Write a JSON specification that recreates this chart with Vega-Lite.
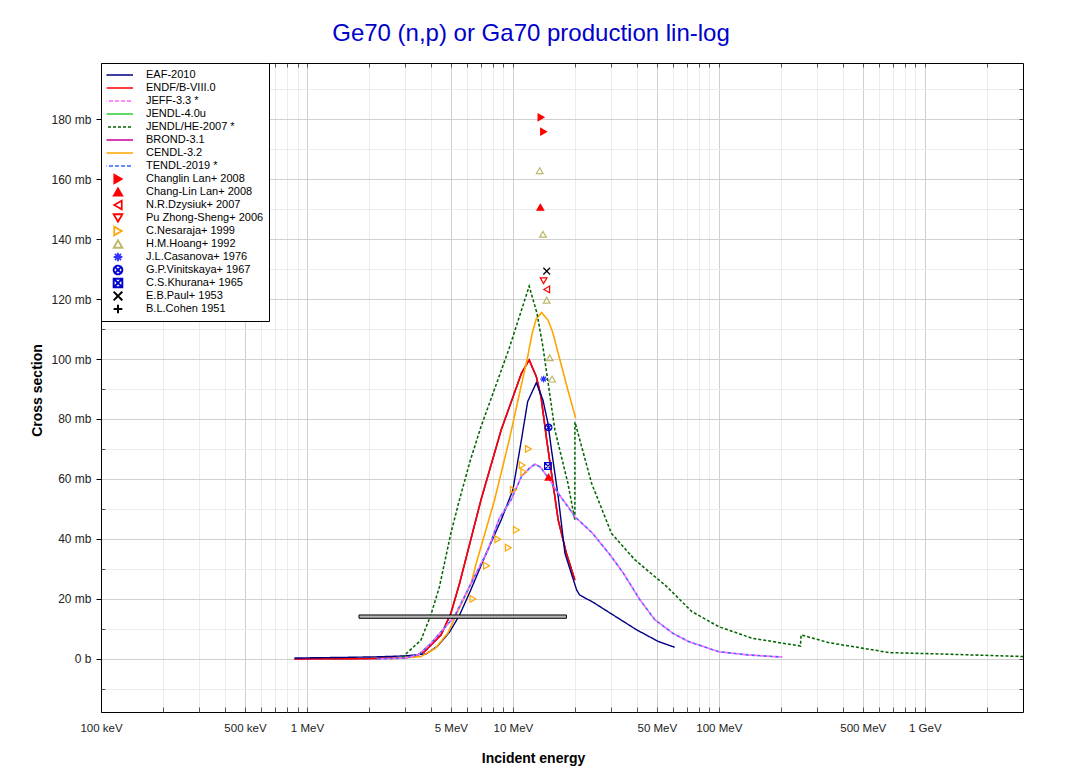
{
  "$schema": "https://vega.github.io/schema/vega-lite/v6.json",
  "autosize": {"type": "none"},
  "padding": {"left": 101, "top": 63, "right": 48, "bottom": 61},
  "width": 922,
  "height": 649,
  "background": "white",
  "config": {"view": {"stroke": null}, "font": "Liberation Sans"},
  "title": {"text": "Ge70 (n,p) or Ga70 production lin-log", "font": "Liberation Sans", "fontSize": 24, "fontWeight": "normal", "color": "#0000CC", "anchor": "middle", "dx": -31, "dy": 22, "offset": 20, "baseline": "alphabetic"},
  "datasets": {
    "curves": [
      {"s":"JENDL-4.0u","e":0.87,"v":0},{"s":"JENDL-4.0u","e":2.0,"v":0.1},{"s":"JENDL-4.0u","e":3.0,"v":0.4},{"s":"JENDL-4.0u","e":3.3,"v":0.8},{"s":"JENDL-4.0u","e":3.72,"v":2.4},{"s":"JENDL-4.0u","e":4.48,"v":8},{"s":"JENDL-4.0u","e":5.0,"v":15.2},{"s":"JENDL-4.0u","e":5.5,"v":25},{"s":"JENDL-4.0u","e":7.0,"v":53},{"s":"JENDL-4.0u","e":8.77,"v":76.3},{"s":"JENDL-4.0u","e":11.0,"v":95.2},{"s":"JENDL-4.0u","e":12.0,"v":99.7},{"s":"JENDL-4.0u","e":13.0,"v":94.1},{"s":"JENDL-4.0u","e":13.7,"v":87.4},{"s":"JENDL-4.0u","e":14.6,"v":73},{"s":"JENDL-4.0u","e":15.4,"v":61.9},{"s":"JENDL-4.0u","e":16.6,"v":46.3},{"s":"JENDL-4.0u","e":18.2,"v":35.2},{"s":"JENDL-4.0u","e":20.0,"v":26.3},
      {"s":"BROND-3.1","e":0.87,"v":0},{"s":"BROND-3.1","e":2.0,"v":0.1},{"s":"BROND-3.1","e":3.0,"v":0.4},{"s":"BROND-3.1","e":3.3,"v":0.8},{"s":"BROND-3.1","e":3.72,"v":2.4},{"s":"BROND-3.1","e":4.48,"v":8},{"s":"BROND-3.1","e":5.0,"v":15.2},{"s":"BROND-3.1","e":5.5,"v":25},{"s":"BROND-3.1","e":7.0,"v":53},{"s":"BROND-3.1","e":8.77,"v":76.3},{"s":"BROND-3.1","e":11.0,"v":95.2},{"s":"BROND-3.1","e":12.0,"v":99.7},{"s":"BROND-3.1","e":13.0,"v":94.1},{"s":"BROND-3.1","e":13.7,"v":87.4},{"s":"BROND-3.1","e":14.6,"v":73},{"s":"BROND-3.1","e":15.4,"v":61.9},{"s":"BROND-3.1","e":16.6,"v":46.3},{"s":"BROND-3.1","e":18.2,"v":35.2},{"s":"BROND-3.1","e":20.0,"v":26.3},
      {"s":"ENDF/B-VIII.0","e":0.87,"v":0},{"s":"ENDF/B-VIII.0","e":2.0,"v":0.1},{"s":"ENDF/B-VIII.0","e":3.0,"v":0.4},{"s":"ENDF/B-VIII.0","e":3.3,"v":0.8},{"s":"ENDF/B-VIII.0","e":3.72,"v":2.4},{"s":"ENDF/B-VIII.0","e":4.48,"v":8},{"s":"ENDF/B-VIII.0","e":5.0,"v":15.2},{"s":"ENDF/B-VIII.0","e":5.5,"v":25},{"s":"ENDF/B-VIII.0","e":7.0,"v":53},{"s":"ENDF/B-VIII.0","e":8.77,"v":76.3},{"s":"ENDF/B-VIII.0","e":11.0,"v":95.2},{"s":"ENDF/B-VIII.0","e":12.0,"v":99.7},{"s":"ENDF/B-VIII.0","e":13.0,"v":94.1},{"s":"ENDF/B-VIII.0","e":13.7,"v":87.4},{"s":"ENDF/B-VIII.0","e":14.6,"v":73},{"s":"ENDF/B-VIII.0","e":15.4,"v":61.9},{"s":"ENDF/B-VIII.0","e":16.6,"v":46.3},{"s":"ENDF/B-VIII.0","e":18.2,"v":35.2},{"s":"ENDF/B-VIII.0","e":20.0,"v":26.3},
      {"s":"EAF-2010","e":0.87,"v":0.3},{"s":"EAF-2010","e":1.5,"v":0.5},{"s":"EAF-2010","e":2.2,"v":0.7},{"s":"EAF-2010","e":3.0,"v":1.0},{"s":"EAF-2010","e":3.8,"v":1.7},{"s":"EAF-2010","e":4.3,"v":4.2},{"s":"EAF-2010","e":4.92,"v":8.9},{"s":"EAF-2010","e":5.5,"v":14.5},{"s":"EAF-2010","e":6.2,"v":22.5},{"s":"EAF-2010","e":7.4,"v":35},{"s":"EAF-2010","e":8.77,"v":46.3},{"s":"EAF-2010","e":10.0,"v":56.3},{"s":"EAF-2010","e":11.0,"v":73},{"s":"EAF-2010","e":11.8,"v":85.8},{"s":"EAF-2010","e":13.0,"v":92.1},{"s":"EAF-2010","e":14.0,"v":86.3},{"s":"EAF-2010","e":14.8,"v":78.6},{"s":"EAF-2010","e":15.4,"v":69.7},{"s":"EAF-2010","e":16.6,"v":54.1},{"s":"EAF-2010","e":17.9,"v":35.2},{"s":"EAF-2010","e":20.4,"v":23},{"s":"EAF-2010","e":21.1,"v":21.3},{"s":"EAF-2010","e":24.5,"v":18.9},{"s":"EAF-2010","e":39.9,"v":9.7},{"s":"EAF-2010","e":50.9,"v":5.8},{"s":"EAF-2010","e":61,"v":3.9},
      {"s":"CENDL-3.2","e":2.5,"v":0},{"s":"CENDL-3.2","e":3.58,"v":0.8},{"s":"CENDL-3.2","e":4.2,"v":3.5},{"s":"CENDL-3.2","e":4.83,"v":8.6},{"s":"CENDL-3.2","e":5.5,"v":17},{"s":"CENDL-3.2","e":6.27,"v":25.2},{"s":"CENDL-3.2","e":6.64,"v":31.9},{"s":"CENDL-3.2","e":8.15,"v":53},{"s":"CENDL-3.2","e":9.6,"v":73},{"s":"CENDL-3.2","e":11.8,"v":100.8},{"s":"CENDL-3.2","e":12.4,"v":108.5},{"s":"CENDL-3.2","e":13.0,"v":113.5},{"s":"CENDL-3.2","e":13.8,"v":115.5},{"s":"CENDL-3.2","e":14.8,"v":113},{"s":"CENDL-3.2","e":15.6,"v":109},{"s":"CENDL-3.2","e":16.6,"v":101.9},{"s":"CENDL-3.2","e":18.5,"v":89.6},{"s":"CENDL-3.2","e":20.2,"v":80.2},
      {"s":"JENDL/HE-2007 *","e":2.9,"v":0.5},{"s":"JENDL/HE-2007 *","e":3.58,"v":6.3},{"s":"JENDL/HE-2007 *","e":4.0,"v":14.7},{"s":"JENDL/HE-2007 *","e":4.4,"v":24.1},{"s":"JENDL/HE-2007 *","e":5.0,"v":41.9},{"s":"JENDL/HE-2007 *","e":5.5,"v":53},{"s":"JENDL/HE-2007 *","e":6.2,"v":66},{"s":"JENDL/HE-2007 *","e":7.0,"v":77.4},{"s":"JENDL/HE-2007 *","e":9.6,"v":103.6},{"s":"JENDL/HE-2007 *","e":12.0,"v":124.3},{"s":"JENDL/HE-2007 *","e":13.1,"v":115.2},{"s":"JENDL/HE-2007 *","e":14.0,"v":104},{"s":"JENDL/HE-2007 *","e":16.0,"v":76.3},{"s":"JENDL/HE-2007 *","e":18.5,"v":58.6},{"s":"JENDL/HE-2007 *","e":20.0,"v":46.3},{"s":"JENDL/HE-2007 *","e":20.02,"v":79},{"s":"JENDL/HE-2007 *","e":24.1,"v":58.6},{"s":"JENDL/HE-2007 *","e":30.1,"v":41.9},{"s":"JENDL/HE-2007 *","e":39.2,"v":33},{"s":"JENDL/HE-2007 *","e":55.9,"v":24.1},{"s":"JENDL/HE-2007 *","e":73.9,"v":15.8},{"s":"JENDL/HE-2007 *","e":99.7,"v":10.8},{"s":"JENDL/HE-2007 *","e":145,"v":6.9},{"s":"JENDL/HE-2007 *","e":249,"v":4.3},{"s":"JENDL/HE-2007 *","e":251,"v":8},{"s":"JENDL/HE-2007 *","e":343,"v":5.4},{"s":"JENDL/HE-2007 *","e":497,"v":3.6},{"s":"JENDL/HE-2007 *","e":672,"v":2.1},{"s":"JENDL/HE-2007 *","e":1130,"v":1.7},{"s":"JENDL/HE-2007 *","e":3000,"v":0.8},
      {"s":"TENDL-2019 *","e":2.2,"v":0},{"s":"TENDL-2019 *","e":3.0,"v":0.3},{"s":"TENDL-2019 *","e":3.5,"v":1.5},{"s":"TENDL-2019 *","e":4.0,"v":5.2},{"s":"TENDL-2019 *","e":5.2,"v":14.1},{"s":"TENDL-2019 *","e":6.27,"v":25.2},{"s":"TENDL-2019 *","e":7.57,"v":36.3},{"s":"TENDL-2019 *","e":8.6,"v":46.9},{"s":"TENDL-2019 *","e":9.8,"v":53},{"s":"TENDL-2019 *","e":11.0,"v":60.8},{"s":"TENDL-2019 *","e":12.0,"v":63.5},{"s":"TENDL-2019 *","e":12.8,"v":64.9},{"s":"TENDL-2019 *","e":13.6,"v":64},{"s":"TENDL-2019 *","e":14.3,"v":61.9},{"s":"TENDL-2019 *","e":15.1,"v":59.7},{"s":"TENDL-2019 *","e":16.6,"v":55.2},{"s":"TENDL-2019 *","e":18.5,"v":50.8},{"s":"TENDL-2019 *","e":20.0,"v":47.4},{"s":"TENDL-2019 *","e":24.3,"v":42},{"s":"TENDL-2019 *","e":30.1,"v":34.1},{"s":"TENDL-2019 *","e":34.4,"v":28.6},{"s":"TENDL-2019 *","e":41.4,"v":19.7},{"s":"TENDL-2019 *","e":49,"v":13},{"s":"TENDL-2019 *","e":56.9,"v":9.7},{"s":"TENDL-2019 *","e":59.6,"v":8.6},{"s":"TENDL-2019 *","e":71.3,"v":5.8},{"s":"TENDL-2019 *","e":100,"v":2.4},{"s":"TENDL-2019 *","e":140,"v":1.3},{"s":"TENDL-2019 *","e":203,"v":0.6},
      {"s":"JEFF-3.3 *","e":2.2,"v":0},{"s":"JEFF-3.3 *","e":3.0,"v":0.3},{"s":"JEFF-3.3 *","e":3.5,"v":1.5},{"s":"JEFF-3.3 *","e":4.0,"v":5.2},{"s":"JEFF-3.3 *","e":5.2,"v":14.1},{"s":"JEFF-3.3 *","e":6.27,"v":25.2},{"s":"JEFF-3.3 *","e":7.57,"v":36.3},{"s":"JEFF-3.3 *","e":8.6,"v":46.9},{"s":"JEFF-3.3 *","e":9.8,"v":53},{"s":"JEFF-3.3 *","e":11.0,"v":60.8},{"s":"JEFF-3.3 *","e":12.0,"v":63.5},{"s":"JEFF-3.3 *","e":12.8,"v":64.9},{"s":"JEFF-3.3 *","e":13.6,"v":64},{"s":"JEFF-3.3 *","e":14.3,"v":61.9},{"s":"JEFF-3.3 *","e":15.1,"v":59.7},{"s":"JEFF-3.3 *","e":16.6,"v":55.2},{"s":"JEFF-3.3 *","e":18.5,"v":50.8},{"s":"JEFF-3.3 *","e":20.0,"v":47.4},{"s":"JEFF-3.3 *","e":24.3,"v":42},{"s":"JEFF-3.3 *","e":30.1,"v":34.1},{"s":"JEFF-3.3 *","e":34.4,"v":28.6},{"s":"JEFF-3.3 *","e":41.4,"v":19.7},{"s":"JEFF-3.3 *","e":49,"v":13},{"s":"JEFF-3.3 *","e":56.9,"v":9.7},{"s":"JEFF-3.3 *","e":59.6,"v":8.6},{"s":"JEFF-3.3 *","e":71.3,"v":5.8},{"s":"JEFF-3.3 *","e":100,"v":2.4},{"s":"JEFF-3.3 *","e":140,"v":1.3},{"s":"JEFF-3.3 *","e":203,"v":0.6}
    ],
    "pts": [
      {"s":"Changlin Lan+ 2008","e":13.7,"v":180.6},{"s":"Changlin Lan+ 2008","e":14.1,"v":175.8},
      {"s":"Chang-Lin Lan+ 2008","e":13.6,"v":150.6},{"s":"Chang-Lin Lan+ 2008","e":14.9,"v":60.6},
      {"s":"N.R.Dzysiuk+ 2007","e":14.6,"v":123.2},
      {"s":"Pu Zhong-Sheng+ 2006","e":14.1,"v":126.1},
      {"s":"C.Nesaraja+ 1999","e":6.4,"v":20},{"s":"C.Nesaraja+ 1999","e":7.45,"v":31.1},{"s":"C.Nesaraja+ 1999","e":8.45,"v":39.9},{"s":"C.Nesaraja+ 1999","e":9.5,"v":37.1},{"s":"C.Nesaraja+ 1999","e":10.4,"v":43},{"s":"C.Nesaraja+ 1999","e":10.05,"v":56.4},{"s":"C.Nesaraja+ 1999","e":11.1,"v":64.6},{"s":"C.Nesaraja+ 1999","e":11.3,"v":62.3},{"s":"C.Nesaraja+ 1999","e":11.9,"v":70},
      {"s":"H.M.Hoang+ 1992","e":13.5,"v":162.8},{"s":"H.M.Hoang+ 1992","e":14.0,"v":141.6},{"s":"H.M.Hoang+ 1992","e":14.6,"v":119.6},{"s":"H.M.Hoang+ 1992","e":15.1,"v":100.4},{"s":"H.M.Hoang+ 1992","e":15.5,"v":93.3},
      {"s":"J.L.Casanova+ 1976","e":14.1,"v":93.3},
      {"s":"G.P.Vinitskaya+ 1967","e":14.9,"v":77.2},
      {"s":"C.S.Khurana+ 1965","e":14.8,"v":64.3},
      {"s":"E.B.Paul+ 1953","e":14.6,"v":129.3}
    ],
    "bar": [{"s":"B.L.Cohen 1951","e1":1.79,"e2":18.2,"v1":13.55,"v2":14.65}]
  },
  "resolve": {"scale": {"x": "shared", "y": "shared"}, "axis": {"x": "independent", "y": "independent"}},
  "encoding": {
    "color": {
      "field": "s", "type": "nominal",
      "scale": {
        "domain": ["EAF-2010","ENDF/B-VIII.0","JEFF-3.3 *","JENDL-4.0u","JENDL/HE-2007 *","BROND-3.1","CENDL-3.2","TENDL-2019 *","Changlin Lan+ 2008","Chang-Lin Lan+ 2008","N.R.Dzysiuk+ 2007","Pu Zhong-Sheng+ 2006","C.Nesaraja+ 1999","H.M.Hoang+ 1992","J.L.Casanova+ 1976","G.P.Vinitskaya+ 1967","C.S.Khurana+ 1965","E.B.Paul+ 1953","B.L.Cohen 1951"],
        "range": ["#000080","#FF0000","#FF66FF","#33CC33","#006400","#CC0099","#FFA500","#3366FF","#FF0000","#FF0000","#FF0000","#FF0000","#FFA500","#BDB76B","#3333FF","#0000CC","#0000CC","#000000","#000000"]
      },
      "legend": {
        "title": null, "orient": "top-left", "offset": 0, "padding": 5.5,
        "strokeColor": "black", "fillColor": "white", "cornerRadius": 0,
        "clipHeight": 13, "rowPadding": 0, "symbolSize": 100, "symbolOffset": 6, "labelOffset": 22.5,
        "labelFont": "Liberation Sans", "labelFontSize": 11, "labelColor": "black", "labelLimit": 300,
        "encode": {
          "symbols": {
            "update": {
              "shape": {"signal": "scale('shape', datum.value)"},
              "size": {"signal": "scale('shape', datum.value) == 'stroke' ? 900 : 75"},
              "stroke": {"signal": "scale('color', datum.value)"},
              "fill": {"signal": "indexof(['Changlin Lan+ 2008','Chang-Lin Lan+ 2008'], datum.value) >= 0 ? '#FF0000' : 'transparent'"},
              "strokeDash": {"signal": "scale('strokeDash', datum.value)"},
              "strokeWidth": {"signal": "scale('shape', datum.value) == 'stroke' ? 2 : 1.2"},
              "opacity": {"value": 1}
            }
          }
        }
      }
    }
  },
  "layer": [
    {
      "data": {"name": "curves"},
      "transform": [{"filter": "datum.s != 'JEFF-3.3 *'"}],
      "mark": {"type": "line", "clip": true},
      "encoding": {
        "x": {"field": "e", "type": "quantitative", "scale": {"type": "log", "domain": [0.1, 3000], "nice": false},
          "axis": {"orient": "bottom", "values": [0.1,0.5,1,5,10,50,100,500,1000],
            "labelExpr": "datum.value >= 1000 ? (datum.value/1000) + ' GeV' : datum.value >= 1 ? datum.value + ' MeV' : round(datum.value*1000) + ' keV'",
            "labelFont": "Liberation Sans", "labelFontSize": 11.5, "labelColor": "#222", "labelFlush": false, "labelOverlap": false,
            "grid": true, "gridColor": {"condition": {"test": "datum.value < 0.11", "value": "transparent"}, "value": "#d0d0d0"},
            "ticks": true, "tickSize": -5, "tickColor": "#555", "labelPadding": 15,
            "domain": true, "domainColor": "black", "domainWidth": 1,
            "title": "Incident energy", "titleFont": "Liberation Sans", "titleFontSize": 14, "titleFontWeight": "bold", "titleColor": "black",
            "titleX": 432, "titleY": 50, "titleAlign": "center", "titleBaseline": "alphabetic"}},
        "y": {"field": "v", "type": "quantitative", "scale": {"domain": [-17.7, 198.7], "nice": false, "zero": false},
          "axis": {"orient": "left", "values": [0,20,40,60,80,100,120,140,160,180],
            "labelExpr": "datum.value == 0 ? '0 b' : datum.value + ' mb'",
            "labelFont": "Liberation Sans", "labelFontSize": 12, "labelColor": "#222",
            "grid": true, "gridColor": "#d0d0d0", "ticks": true, "tickSize": 5, "tickColor": "black", "labelPadding": 5,
            "domain": true, "domainColor": "black", "domainWidth": 1,
            "title": "Cross section", "titleFont": "Liberation Sans", "titleFontSize": 14, "titleFontWeight": "bold", "titleColor": "black",
            "titleX": -64, "titleY": 327, "titleAngle": -90, "titleAlign": "center", "titleBaseline": "middle"}},
        "strokeDash": {"field": "s", "type": "nominal", "legend": null,
          "scale": {"domain": ["EAF-2010","ENDF/B-VIII.0","JEFF-3.3 *","JENDL-4.0u","JENDL/HE-2007 *","BROND-3.1","CENDL-3.2","TENDL-2019 *","Changlin Lan+ 2008","Chang-Lin Lan+ 2008","N.R.Dzysiuk+ 2007","Pu Zhong-Sheng+ 2006","C.Nesaraja+ 1999","H.M.Hoang+ 1992","J.L.Casanova+ 1976","G.P.Vinitskaya+ 1967","C.S.Khurana+ 1965","E.B.Paul+ 1953","B.L.Cohen 1951"],
            "range": [[1,0],[1,0],[4,2],[1,0],[3,2],[1,0],[1,0],[4,2],[1,0],[1,0],[1,0],[1,0],[1,0],[1,0],[1,0],[1,0],[1,0],[1,0],[1,0]]}},
        "strokeWidth": {"field": "s", "type": "nominal", "legend": null,
          "scale": {"domain": ["EAF-2010","ENDF/B-VIII.0","JEFF-3.3 *","JENDL-4.0u","JENDL/HE-2007 *","BROND-3.1","CENDL-3.2","TENDL-2019 *","Changlin Lan+ 2008","Chang-Lin Lan+ 2008","N.R.Dzysiuk+ 2007","Pu Zhong-Sheng+ 2006","C.Nesaraja+ 1999","H.M.Hoang+ 1992","J.L.Casanova+ 1976","G.P.Vinitskaya+ 1967","C.S.Khurana+ 1965","E.B.Paul+ 1953","B.L.Cohen 1951"],
            "range": [1.4,2,1.4,1.4,1.4,1.4,1.4,1.4,1,1,1,1,1,1,1,1,1,1,1]}}
      }
    },
    {
      "data": {"name": "curves"},
      "transform": [{"filter": "datum.s == 'JEFF-3.3 *'"}],
      "mark": {"type": "line", "clip": true, "strokeDashOffset": 3},
      "encoding": {
        "x": {"field": "e", "type": "quantitative", "scale": {"type": "log", "domain": [0.1, 3000], "nice": false},
          "axis": {"orient": "bottom", "values": [0.2,0.3,0.4,0.6,0.7,0.8,0.9,2,3,4,6,7,8,9,20,30,40,60,70,80,90,200,300,400,600,700,800,900,2000],
            "labels": false, "grid": true, "gridColor": "#ececec", "ticks": true, "tickSize": -5, "tickColor": "#555", "domain": false, "title": null}},
        "y": {"field": "v", "type": "quantitative", "scale": {"domain": [-17.7, 198.7], "nice": false, "zero": false},
          "axis": {"orient": "left", "values": [-10,10,30,50,70,90,110,130,150,170,190],
            "labels": false, "grid": true, "gridColor": "#ececec", "ticks": true, "tickSize": -4, "tickColor": "#555", "domain": false, "title": null}},
        "strokeDash": {"field": "s", "type": "nominal", "legend": null},
        "strokeWidth": {"field": "s", "type": "nominal", "legend": null}
      }
    },
    {
      "data": {"name": "bar"},
      "mark": {"type": "rect", "stroke": "black", "strokeWidth": 1},
      "encoding": {
        "x": {"field": "e1", "type": "quantitative", "axis": null},
        "x2": {"field": "e2"},
        "y": {"field": "v1", "type": "quantitative", "axis": null},
        "y2": {"field": "v2"},
        "color": {"value": "#b8b8b8"}
      }
    },
    {
      "data": {"name": "pts"},
      "mark": {"type": "point", "filled": false, "opacity": 1, "strokeWidth": 1.2, "size": 45},
      "encoding": {
        "x": {"field": "e", "type": "quantitative",
          "axis": {"orient": "top", "values": [0.2,0.3,0.4,0.5,0.6,0.7,0.8,0.9,1,2,3,4,5,6,7,8,9,10,20,30,40,50,60,70,80,90,100,200,300,400,500,600,700,800,900,1000,2000],
            "labels": false, "grid": false, "ticks": true, "tickSize": -4, "tickColor": "#555", "domain": true, "domainColor": "black", "title": null}},
        "y": {"field": "v", "type": "quantitative",
          "axis": {"orient": "right", "values": [-10,0,10,20,30,40,50,60,70,80,90,100,110,120,130,140,150,160,170,180,190],
            "labels": false, "grid": false, "ticks": true, "tickSize": -4, "tickColor": "#555", "domain": true, "domainColor": "black", "title": null}},
        "shape": {"field": "s", "type": "nominal", "legend": null,
          "scale": {"domain": ["EAF-2010","ENDF/B-VIII.0","JEFF-3.3 *","JENDL-4.0u","JENDL/HE-2007 *","BROND-3.1","CENDL-3.2","TENDL-2019 *","Changlin Lan+ 2008","Chang-Lin Lan+ 2008","N.R.Dzysiuk+ 2007","Pu Zhong-Sheng+ 2006","C.Nesaraja+ 1999","H.M.Hoang+ 1992","J.L.Casanova+ 1976","G.P.Vinitskaya+ 1967","C.S.Khurana+ 1965","E.B.Paul+ 1953","B.L.Cohen 1951"],
            "range": ["stroke","stroke","stroke","stroke","stroke","stroke","stroke","stroke","triangle-right","triangle-up","triangle-left","triangle-down","triangle-right","triangle-up",
              "M-1,0L1,0M0,-1L0,1M-0.7,-0.7L0.7,0.7M-0.7,0.7L0.7,-0.7",
              "M1,0A1,1,0,1,1,-1,0A1,1,0,1,1,1,0ZM-0.7,-0.7L0.7,0.7M-0.7,0.7L0.7,-0.7",
              "M-1,-1H1V1H-1ZM-1,-1L1,1M-1,1L1,-1",
              "M-1,-1L1,1M-1,1L1,-1",
              "M-1,0L1,0M0,-1L0,1"]}},
        "fill": {"condition": {"test": "indexof(['Changlin Lan+ 2008','Chang-Lin Lan+ 2008'], datum.s) >= 0", "value": "#FF0000"}, "value": "transparent"}
      }
    }
  ]
}
